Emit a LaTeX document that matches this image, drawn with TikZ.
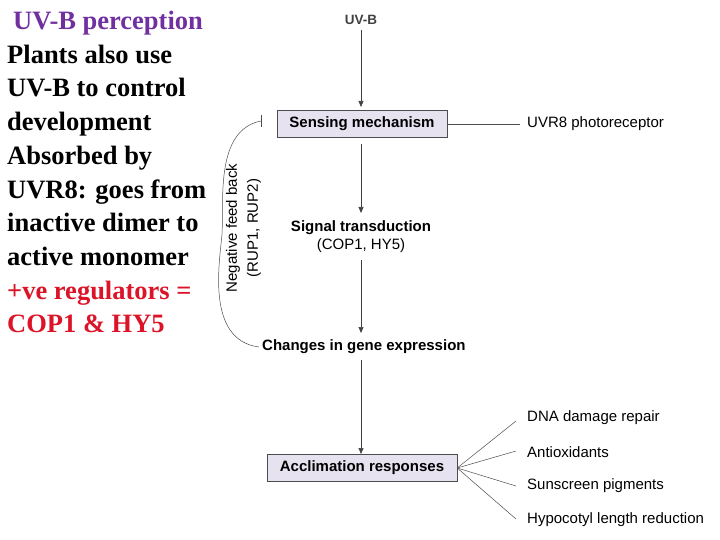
\documentclass[tikz,border=0pt]{standalone}
\usepackage{fontspec}
\setmainfont{Liberation Serif}
\newfontfamily\arial{Liberation Sans}
\usetikzlibrary{arrows.meta}
\definecolor{boxfill}{RGB}{230,226,240}
\definecolor{ptitle}{RGB}{112,48,160}
\definecolor{pred}{RGB}{220,20,40}
\begin{document}
\begin{tikzpicture}[x=1pt,y=-1pt,
  lab/.style={font=\arial\fontsize{15}{17}\selectfont, inner sep=0pt},
  blab/.style={font=\arial\bfseries\fontsize{15}{17}\selectfont, inner sep=0pt},
  box/.style={draw=black!70, fill=boxfill, minimum height=27pt, inner sep=0pt, font=\arial\bfseries\fontsize{15}{17}\selectfont},
  arr/.style={draw=black!75, line width=0.6pt, -{Triangle[length=6pt,width=5pt]}},
  ln/.style={draw=black!70, line width=0.5pt}]
\useasboundingbox (0,0) rectangle (720,540);
% left text
\node[anchor=north west, inner sep=0pt, align=left,
  font=\bfseries\fontsize{26.5}{33.7}\selectfont] (txt) at (7,11)
  {\hspace*{6pt}\textcolor{ptitle}{UV-B perception}\\
   Plants also use\\ UV-B to control\\ development\\ Absorbed by\\ UVR8: goes from\\ inactive dimer to\\ active monomer\\
   \textcolor{pred}{+ve regulators =}\\ \textcolor{pred}{COP1 \& HY5}};
% diagram
\node[blab, text=black!75, font=\arial\bfseries\fontsize{13.5}{15}\selectfont] (uvb) at (361,20) {UV-B};
\node[box, minimum width=170pt] (sense) at (362,124) {Sensing mechanism};
\node[lab, anchor=west] (uvr8) at (527,124) {UVR8 photoreceptor};
\node[blab] (sig) at (361,228) {Signal transduction};
\node[lab] (cop) at (361,246) {(COP1, HY5)};
\node[blab, anchor=west] (gene) at (262,347) {Changes in gene expression};
\node[box, minimum width=190pt] (accl) at (362,468) {Acclimation responses};
\node[lab, anchor=west] (r1) at (527,418) {DNA damage repair};
\node[lab, anchor=west] (r2) at (527,452) {Antioxidants};
\node[lab, anchor=west] (r3) at (527,486) {Sunscreen pigments};
\node[lab, anchor=west] (r4) at (527,520) {Hypocotyl length reduction};
\coordinate (f1) at (516,421);
\coordinate (f2) at (516,451);
\coordinate (f3) at (516,486);
\coordinate (f4) at (516,519);
\coordinate (se) at (520,124);
\coordinate (a1) at (361,30);  \coordinate (a2) at (361,107);
\coordinate (b1) at (361,144); \coordinate (b2) at (361,213);
\coordinate (c1) at (361,260); \coordinate (c2) at (361,333);
\coordinate (d1) at (361,360); \coordinate (d2) at (361,454);
\draw[arr] (a1) -- (a2);
\draw[arr] (b1) -- (b2);
\draw[arr] (c1) -- (c2);
\draw[arr] (d1) -- (d2);
\draw[ln] (sense.east) -- (se);
\foreach \f in {f1,f2,f3,f4} \draw[ln] (accl.east) -- (\f);
% feedback
\coordinate (fbs) at (259,347);
\coordinate (fbe) at (261,121);
\draw[ln] (fbs) .. controls (205,340) and (220,260) .. (222,234)
  .. controls (224,200) and (215,130) .. (fbe);
\draw[ln] (261,115) -- (261,127);
\node[lab, rotate=90] (nfb) at (233,228) {Negative feed back};
\node[lab, rotate=90] (rup) at (254,228) {(RUP1, RUP2)};
\end{tikzpicture}
\end{document}
